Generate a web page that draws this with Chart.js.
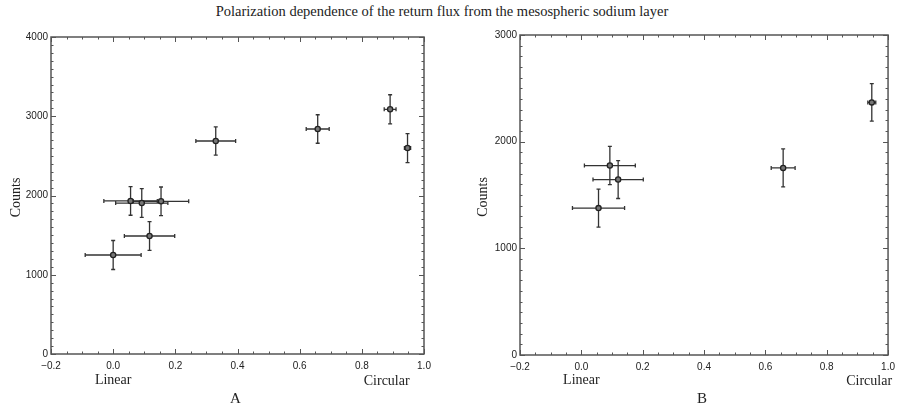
<!DOCTYPE html>
<html>
<head>
<meta charset="utf-8">
<script src="https://cdn.jsdelivr.net/npm/chart.js@4.4.1/dist/chart.umd.min.js"></script>
<style>
  html, body { margin: 0; padding: 0; background: #fff; }
  #wrap { position: relative; width: 901px; height: 411px; }
  .panel { position: absolute; top: 0; height: 411px; }
  #title { position: absolute; top: 3px; left: 0; width: 884px; text-align: center;
           font-family: "Liberation Serif", serif; font-size: 14.5px; color: #222; }
</style>
</head>
<body>
<div id="wrap">
  <div id="title">Polarization dependence of the return flux from the mesospheric sodium layer</div>
  <div class="panel" style="left:0;width:450px"><canvas id="chartA"></canvas></div>
  <div class="panel" style="left:450px;width:451px"><canvas id="chartB"></canvas></div>
</div>
<script>
// Panel A measurements: polarization fraction vs counts
const aPol = [0.0, 0.056, 0.092, 0.154, 0.117, 0.33, 0.658, 0.891, 0.947];
const aCounts = [1249, 1931, 1905, 1927, 1489, 2688, 2839, 3088, 2599];
const aPolErr = [0.09, 0.086, 0.084, 0.089, 0.081, 0.064, 0.037, 0.019, 0.01];
const aCountsErr = [183, 180, 181, 180, 181, 179, 180, 183, 183];

// Panel B measurements
const bPol = [0.056, 0.093, 0.12, 0.658, 0.947];
const bCounts = [1377, 1776, 1645, 1754, 2368];
const bPolErr = [0.085, 0.083, 0.082, 0.039, 0.013];
const bCountsErr = [179, 179, 178, 178, 176];

const xMin = -0.2, xMax = 1.0, xStep = 0.2, xMinor = 0.05;
const aYMax = 4000, bYMax = 3000, yStep = 1000, yMinor = 100;

const sans = "'Liberation Sans', Arial, sans-serif";
const serif = "'Liberation Serif', 'Times New Roman', serif";

// error bars drawn under the markers
const errorBars = {
  id: 'errorBars',
  beforeDatasetsDraw(chart, args, opts) {
    const ctx = chart.ctx, xs = chart.scales.x, ys = chart.scales.y;
    ctx.save();
    ctx.strokeStyle = '#333';
    ctx.lineWidth = 1.3;
    opts.x.forEach((x, i) => {
      const y = opts.y[i];
      const px = xs.getPixelForValue(x), py = ys.getPixelForValue(y);
      const x0 = xs.getPixelForValue(x - opts.xErr[i]), x1 = xs.getPixelForValue(x + opts.xErr[i]);
      const y0 = ys.getPixelForValue(y - opts.yErr[i]), y1 = ys.getPixelForValue(y + opts.yErr[i]);
      ctx.beginPath();
      ctx.moveTo(x0, py); ctx.lineTo(x1, py);
      ctx.moveTo(x0, py - 2); ctx.lineTo(x0, py + 2);
      ctx.moveTo(x1, py - 2); ctx.lineTo(x1, py + 2);
      ctx.moveTo(px, y0); ctx.lineTo(px, y1);
      ctx.moveTo(px - 2, y0); ctx.lineTo(px + 2, y0);
      ctx.moveTo(px - 2, y1); ctx.lineTo(px + 2, y1);
      ctx.stroke();
    });
    ctx.restore();
  }
};

// IDL style frame with inward ticks on all four sides, plus the text labels
const frame = {
  id: 'frame',
  afterDraw(chart, args, opts) {
    const ctx = chart.ctx, a = chart.chartArea, xs = chart.scales.x, ys = chart.scales.y;
    ctx.save();
    ctx.strokeStyle = '#555';
    ctx.lineWidth = 1.5;
    ctx.strokeRect(a.left, a.top, a.right - a.left, a.bottom - a.top);
    ctx.lineWidth = 1;
    ctx.beginPath();
    for (let k = 0; k <= Math.round((xMax - xMin) / xMinor); k++) {
      const v = xMin + k * xMinor;
      const len = k % 4 === 0 ? 5 : 2.5;
      const p = Math.round(xs.getPixelForValue(v)) + 0.5;
      ctx.moveTo(p, a.bottom); ctx.lineTo(p, a.bottom - len);
      ctx.moveTo(p, a.top); ctx.lineTo(p, a.top + len);
    }
    for (let k = 0; k <= Math.round(opts.yMax / yMinor); k++) {
      const len = k % 10 === 0 ? 5 : 2.5;
      const p = Math.round(ys.getPixelForValue(k * yMinor)) + 0.5;
      ctx.moveTo(a.left, p); ctx.lineTo(a.left + len, p);
      ctx.moveTo(a.right, p); ctx.lineTo(a.right - len, p);
    }
    ctx.stroke();

    ctx.fillStyle = '#222';
    ctx.font = '14px ' + serif;
    ctx.textBaseline = 'middle';
    ctx.textAlign = 'center';
    ctx.fillText('Linear', xs.getPixelForValue(0), 380);
    if (opts.circularRight) {
      ctx.textAlign = 'right';
      ctx.fillText('Circular', a.right + 4, 381);
    } else {
      ctx.fillText('Circular', xs.getPixelForValue(0.88), 381);
    }
    ctx.textAlign = 'center';
    ctx.font = '15px ' + serif;
    ctx.fillText(opts.letter, (a.left + a.right) / 2 - 2, 399);
    ctx.font = '14px ' + serif;
    ctx.translate(opts.countsX, (a.top + a.bottom) / 2 + 2);
    ctx.rotate(-Math.PI / 2);
    ctx.fillText('Counts', 0, 0);
    ctx.restore();
  }
};

function fmtX(v) {
  if (Math.abs(v) < 1e-9) v = 0;
  return v.toFixed(1).replace('-', '\u2212');
}

function makePanel(canvasId, xs, ys, xErr, yErr, yMax, geom) {
  const ctx = document.getElementById(canvasId).getContext('2d');
  return new Chart(ctx, {
    type: 'scatter',
    data: {
      datasets: [{
        data: xs.map((x, i) => ({ x: x, y: ys[i] })),
        pointRadius: 2.6,
        pointHoverRadius: 2.6,
        pointBackgroundColor: '#777',
        pointBorderColor: '#222',
        pointBorderWidth: 1.3
      }]
    },
    options: {
      responsive: true,
      maintainAspectRatio: false,
      animation: false,
      events: [],
      layout: { padding: { left: 0, top: geom.top, right: geom.right, bottom: 0 } },
      plugins: {
        legend: { display: false },
        tooltip: { enabled: false },
        errorBars: { x: xs, y: ys, xErr: xErr, yErr: yErr },
        frame: { yMax: yMax, letter: geom.letter, countsX: geom.countsX, circularRight: geom.circularRight }
      },
      scales: {
        x: {
          type: 'linear',
          min: xMin, max: xMax,
          grid: { display: false, drawTicks: false },
          border: { display: false },
          afterFit: s => { s.height = geom.xHeight; },
          ticks: {
            stepSize: xStep,
            padding: 6,
            color: '#222',
            font: { family: sans, size: 10 },
            callback: fmtX
          }
        },
        y: {
          type: 'linear',
          min: 0, max: yMax,
          grid: { display: false, drawTicks: false },
          border: { display: false },
          afterFit: s => { s.width = geom.yWidth; },
          ticks: {
            stepSize: yStep,
            padding: 3,
            color: '#222',
            font: { family: sans, size: 10 },
            callback: v => String(v)
          }
        }
      }
    },
    plugins: [errorBars, frame]
  });
}

makePanel('chartA', aPol, aCounts, aPolErr, aCountsErr, aYMax,
  { top: 37, right: 26, xHeight: 57, yWidth: 51, letter: 'A', countsX: 16, circularRight: false });
makePanel('chartB', bPol, bCounts, bPolErr, bCountsErr, bYMax,
  { top: 35, right: 8, xHeight: 56, yWidth: 70, letter: 'B', countsX: 33, circularRight: true });
</script>
</body>
</html>
